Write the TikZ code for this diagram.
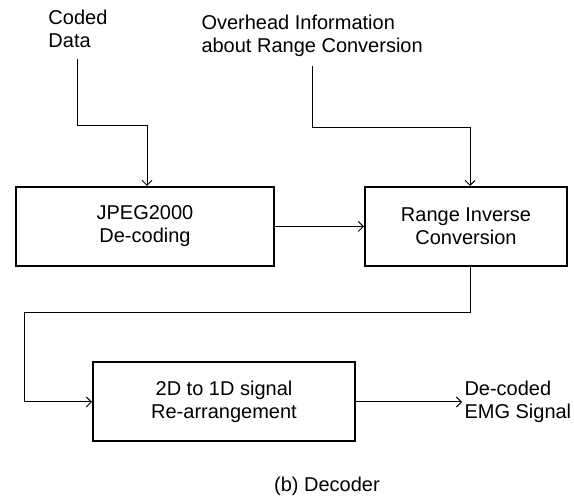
\documentclass[tikz,border=0pt]{standalone}
\usepackage{fontspec}
\setmainfont{Liberation Sans}
\usetikzlibrary{arrows.meta}
\tikzset{
  blk/.style={draw,line width=2pt,minimum width=#1,minimum height=79pt,align=center},
  txt/.style={align=left,inner sep=2pt},
}
\begin{document}
\begin{tikzpicture}[x=1pt,y=-1pt,line width=1pt,>={Straight Barb[length=5pt,width=10pt]},
    every node/.append style={font=\fontsize{20}{23}\selectfont}]
        \useasboundingbox (0,0) rectangle (574,497);
        \node[blk=258pt] (D) at (145,226.5) {JPEG2000\\De-coding};
        \node[blk=202pt] (I) at (466,226.5) {Range Inverse\\Conversion};
        \node[blk=262pt] (R) at (224,402) {2D to 1D signal\\Re-arrangement};
        \node[txt,anchor=north west] (C) at (46,8) {Coded\\Data};
        \node[txt,anchor=north west] (O) at (199,13) {Overhead Information\\about Range Conversion};
        \node[txt,anchor=west] (E) at (462,402) {De-coded\\EMG Signal};
        \node (B) at (327,486) {(b) Decoder};
        \coordinate (k1) at (147,126);
        \coordinate (k2) at (470,128);
        \coordinate (k3) at (470,313);
        \coordinate (k4) at (24,313);
        \draw[->] ([yshift=-8pt]C.south) |- (k1) -- (k1 |- D.north);
        \draw[->] ([yshift=-6pt]O.south) |- (k2) -- (k2 |- I.north);
        \draw[->] (D.east) -- (I.west);
        \draw[->] (k3 |- I.south) -- (k3) -- (k4) |- (R.west);
        \draw[->] (R.east) -- (E.west);
    \end{tikzpicture}
\end{document}
